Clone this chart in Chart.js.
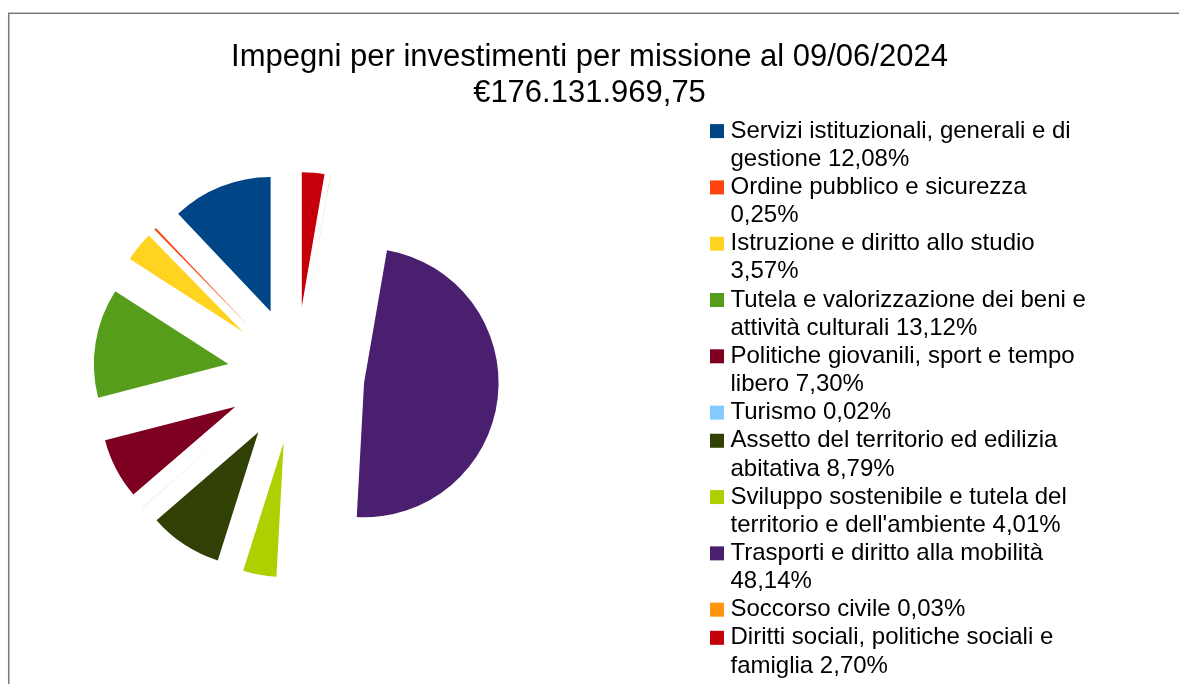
<!DOCTYPE html>
<html lang="it">
<head>
<meta charset="utf-8">
<title>Impegni per investimenti per missione</title>
<script src="https://cdn.jsdelivr.net/npm/chart.js@4.4.1/dist/chart.umd.min.js"></script>
<style>
    html, body { margin: 0; padding: 0; background: #fff; }
    #wrap { position: relative; width: 1179px; height: 684px; }
</style>
</head>
<body>
<div id="wrap"><canvas id="myChart"></canvas></div>
<script>
// data
const chartTitle = 'Impegni per investimenti per missione al 09/06/2024';
const totalLabel = '€176.131.969,75';
const missions = [
    'Servizi istituzionali, generali e di gestione',
    'Ordine pubblico e sicurezza',
    'Istruzione e diritto allo studio',
    'Tutela e valorizzazione dei beni e attività culturali',
    'Politiche giovanili, sport e tempo libero',
    'Turismo',
    'Assetto del territorio ed edilizia abitativa',
    'Sviluppo sostenibile e tutela del territorio e dell\'ambiente',
    'Trasporti e diritto alla mobilità',
    'Soccorso civile',
    'Diritti sociali, politiche sociali e famiglia'
];
const shares = [12.08, 0.25, 3.57, 13.12, 7.30, 0.02, 8.79, 4.01, 48.14, 0.03, 2.70];
const palette = ['#004586', '#ff420e', '#ffd320', '#579d1c', '#7e0021', '#83caff', '#314004', '#aecf00', '#4b1f6f', '#ff950e', '#c5000b'];

Chart.defaults.font.family = '"Liberation Sans", Arial, sans-serif';
Chart.defaults.color = '#000';

const legendStyle = {
    width: 587,          // column reserved on the right
    inset: 118,          // from column edge to the colour squares
    boxSize: 14,
    gap: 6.5,
    lineHeight: 28.15,
    maxTextWidth: 367,
    font: '24px "Liberation Sans", Arial, sans-serif'
};

const pct = v => v.toFixed(2).replace('.', ',') + '%';

function wrapText(ctx, text, maxWidth) {
    const words = text.split(' ');
    const lines = [];
    let line = '';
    words.forEach(w => {
        const test = line ? line + ' ' + w : w;
        if (line && ctx.measureText(test).width > maxWidth) {
            lines.push(line);
            line = w;
        } else {
            line = test;
        }
    });
    if (line) lines.push(line);
    return lines;
}

function drawLegend(ctx, box) {
    const st = legendStyle;
    ctx.save();
    ctx.font = st.font;
    ctx.textBaseline = 'middle';
    ctx.textAlign = 'left';
    const boxX = box.left + st.inset;
    const textX = boxX + st.boxSize + st.gap;
    let y = box.top;
    missions.forEach((name, i) => {
        const lines = wrapText(ctx, name + ' ' + pct(shares[i]), st.maxTextWidth);
        const mid = y + st.lineHeight / 2;
        ctx.fillStyle = palette[i];
        ctx.fillRect(boxX, mid - st.boxSize / 2, st.boxSize, st.boxSize);
        ctx.fillStyle = '#000';
        lines.forEach((line, k) => ctx.fillText(line, textX, mid + k * st.lineHeight));
        y += lines.length * st.lineHeight;
    });
    ctx.restore();
}

// legend as a layout box, so the pie is centred in what is left of the canvas
const sideLegend = {
    id: 'sideLegend',
    beforeInit(chart) {
        const box = {
            position: 'right',
            weight: 0,
            fullSize: false,
            options: {},
            isHorizontal: () => false,
            update(maxWidth, maxHeight) {
                this.width = legendStyle.width;
                this.height = maxHeight;
            },
            draw() {
                drawLegend(chart.ctx, this);
            }
        };
        Chart.layouts.addBox(chart, box);
    }
};

// pulls every slice out along its own bisector
const explode = {
    id: 'explode',
    afterDatasetsUpdate(chart, args, options) {
        const d = options.distance || 0;
        chart.getDatasetMeta(0).data.forEach(arc => {
            const mid = (arc.startAngle + arc.endAngle) / 2;
            arc.x += Math.cos(mid) * d;
            arc.y += Math.sin(mid) * d;
        });
    }
};

const frame = {
    id: 'frame',
    beforeDraw(chart) {
        const { ctx, width, height } = chart;
        ctx.save();
        ctx.fillStyle = '#fff';
        ctx.fillRect(0, 0, width, height);
        ctx.strokeStyle = '#777';
        ctx.lineWidth = 1.5;
        ctx.strokeRect(8.7, 13.3, width + 20, height + 20);
        ctx.restore();
    }
};

// slices run anticlockwise from 12 o'clock, so Chart.js gets the lists reversed
const rev = arr => arr.slice().reverse();

new Chart(document.getElementById('myChart'), {
    type: 'pie',
    data: {
        labels: rev(missions),
        datasets: [{
            data: rev(shares),
            backgroundColor: rev(palette),
            borderWidth: 0,
            radius: 134.5
        }]
    },
    options: {
        responsive: true,
        maintainAspectRatio: false,
        animation: false,
        events: [],
        layout: {
            padding: { top: 0, bottom: 51, left: 0, right: 0 }
        },
        plugins: {
            legend: { display: false },
            tooltip: { enabled: false },
            title: {
                display: true,
                text: [chartTitle, totalLabel],
                color: '#000',
                font: { size: 31, weight: 'normal', lineHeight: 1.17 },
                padding: { top: 38.9, bottom: 5.6 }
            },
            explode: { distance: 68.5 }
        }
    },
    plugins: [frame, sideLegend, explode]
});
</script>
</body>
</html>
